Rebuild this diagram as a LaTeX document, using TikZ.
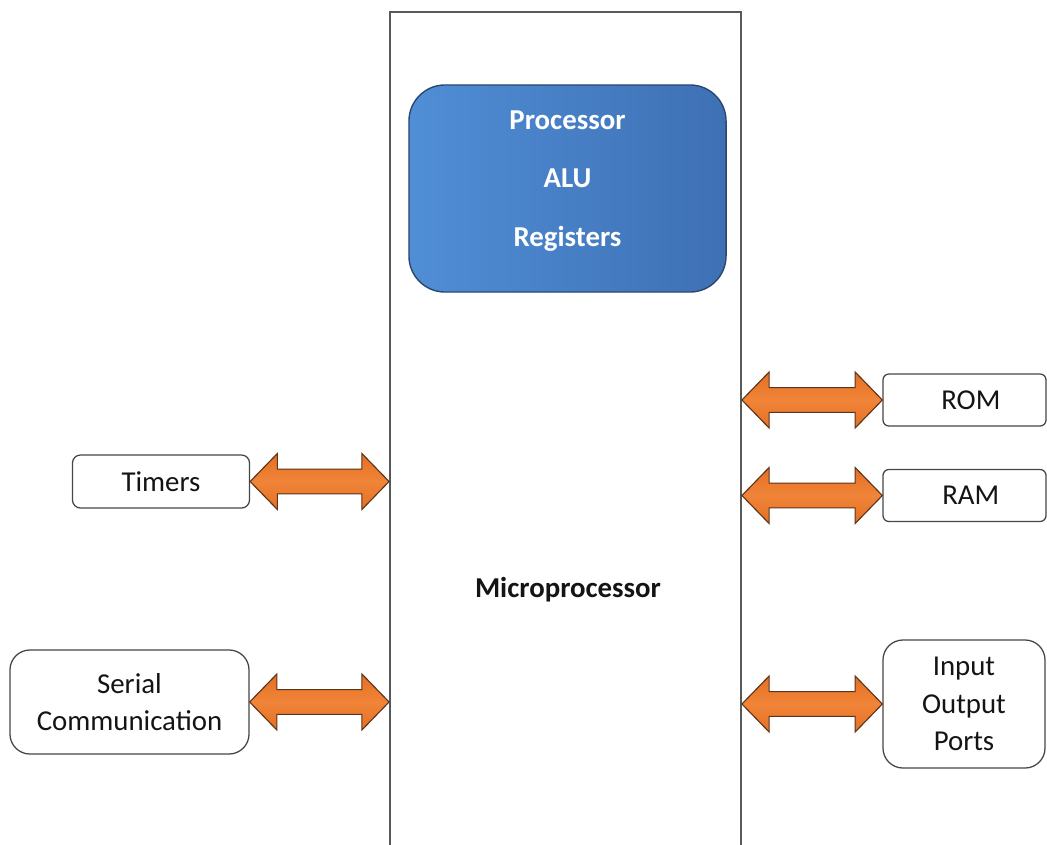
\documentclass[tikz,border=0pt]{standalone}
\usepackage{fontspec}
\setmainfont{Carlito}
\usetikzlibrary{calc}
\definecolor{cpublueL}{RGB}{80,142,214}
\definecolor{cpublueR}{RGB}{62,112,180}
\definecolor{cpuedge}{RGB}{44,72,112}
\definecolor{busorange}{RGB}{228,112,36}
\definecolor{busorangeL}{RGB}{240,132,56}
\definecolor{busedge}{RGB}{92,52,28}
\definecolor{boxedge}{RGB}{70,70,70}
\definecolor{inktext}{RGB}{20,20,20}

\newcommand{\busarrow}[2]{%
  \draw[bus] let \p1=(#1), \p2=(#2) in
    (\x1,\y1) -- (\x1+0.68cm,\y1+0.7cm) -- (\x1+0.68cm,\y1+0.31cm)
    -- (\x2-0.68cm,\y1+0.31cm) -- (\x2-0.68cm,\y1+0.7cm) -- (\x2,\y1)
    -- (\x2-0.68cm,\y1-0.7cm) -- (\x2-0.68cm,\y1-0.31cm)
    -- (\x1+0.68cm,\y1-0.31cm) -- (\x1+0.68cm,\y1-0.7cm) -- cycle;}

\begin{document}
\begin{tikzpicture}[x=0.025cm,y=-0.025cm,
    unit/.style={draw=boxedge,line width=0.9pt,fill=white,text=inktext,
      font=\fontsize{20.5}{26.6}\selectfont,align=center},
    bus/.style={draw=busedge,line width=0.8pt,top color=busorange,
      bottom color=busorange,middle color=busorangeL}]
  \useasboundingbox (0,0) rectangle (1047,844);
  % chip outline, open at the bottom
  \node[draw=black!65,line width=1.1pt,minimum width=8.78cm,minimum height=22cm] (mp) at (565.5,452) {};
  \node[text=inktext,font=\bfseries\fontsize{20.5}{26.6}\selectfont] (mplabel) at (568,590) {Microprocessor};
  \node[draw=cpuedge,line width=1pt,rounded corners=0.9cm,left color=cpublueL,right color=cpublueR,
    minimum width=7.925cm,minimum height=5.175cm,
    label={[text=white,font=\bfseries\fontsize{20.5}{41.6}\selectfont,align=center,yshift=5.5pt]center:Processor\\ALU\\Registers}]
    (cpu) at (567.5,188.5) {};
  % peripherals
  \node[unit,rounded corners=0.2cm,minimum width=4.425cm,minimum height=1.325cm] (tim) at (161,481.5) {Timers};
  \node[unit,rounded corners=0.5cm,minimum width=5.975cm,minimum height=2.6cm] (ser) at (129.5,702) {Serial\\Communication};
  \node[unit,rounded corners=0.15cm,minimum width=4.075cm,minimum height=1.3cm] (rom) at (964.5,400) {\hspace*{9pt}ROM};
  \node[unit,rounded corners=0.15cm,minimum width=4.075cm,minimum height=1.3cm] (ram) at (964.5,495.5) {\hspace*{9pt}RAM};
  \node[unit,rounded corners=0.5cm,minimum width=4.05cm,minimum height=3.2cm] (io) at (964,704) {Input\\Output\\Ports};
  % buses
  \busarrow{tim.east}{tim.east -| mp.west}
  \busarrow{ser.east}{ser.east -| mp.west}
  \busarrow{rom.west -| mp.east}{rom.west}
  \busarrow{ram.west -| mp.east}{ram.west}
  \busarrow{io.west -| mp.east}{io.west}
\end{tikzpicture}
\end{document}
